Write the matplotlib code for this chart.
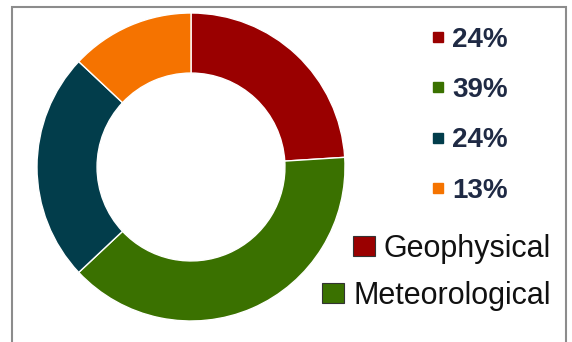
import matplotlib
matplotlib.use('Agg')
import matplotlib.pyplot as plt
from matplotlib.lines import Line2D
from matplotlib.patches import Patch, Rectangle

plt.rcParams['font.family'] = ['Liberation Sans', 'DejaVu Sans']

# data
shares = [24, 39, 24, 13]
share_labels = ['24%', '39%', '24%', '13%']
colors = ['#9a0000', '#3a7100', '#023d4b', '#f57300']
categories = ['Geophysical', 'Meteorological']
category_colors = ['#9a0000', '#3a7100']

W, H = 572, 342
fig = plt.figure(figsize=(W / 100, H / 100), dpi=100)

# donut, centre ~ (191, 167) px, outer radius ~154 px
cx, cy, r = 191, 167, 154
ax = fig.add_axes([(cx - r) / W, (H - cy - r) / H, 2 * r / W, 2 * r / H])
ax.pie(shares, colors=colors, startangle=90, counterclock=False,
       wedgeprops=dict(width=0.39, edgecolor='white', linewidth=1))
ax.set_xlim(-1, 1)
ax.set_ylim(-1, 1)
ax.set_aspect('equal')
ax.axis('off')

# percentage legend
handles = [Line2D([], [], marker='s', linestyle='none', markersize=7.5,
                  markerfacecolor=c, markeredgecolor=c) for c in colors]
fig.legend(handles, share_labels, loc='upper left',
           bbox_to_anchor=(432 / W, 1 - 27 / H), frameon=False,
           prop=dict(size=20, weight='bold'), labelcolor='#1f2a44',
           handlelength=0.43, handletextpad=0.3, labelspacing=0.87,
           borderpad=0, borderaxespad=0)

# category legend, right aligned
for i, (name, c) in enumerate(zip(categories, category_colors)):
    fig.legend([Patch(facecolor=c, edgecolor='#333333', linewidth=0.8)], [name],
               loc='center right', bbox_to_anchor=(551 / W, 1 - (249 + 47 * i) / H),
               frameon=False, prop=dict(size=22), labelcolor='#111111',
               handlelength=0.72, handleheight=0.65, handletextpad=0.3,
               borderpad=0, borderaxespad=0)

# grey frame round the chart
fig.patches.append(Rectangle((12 / W, -0.05), (566 - 12) / W, 1 - 7 / H + 0.05,
                             transform=fig.transFigure, fill=False,
                             edgecolor='#8c8c8c', linewidth=1.5))

fig.savefig('out.png', dpi=100)
